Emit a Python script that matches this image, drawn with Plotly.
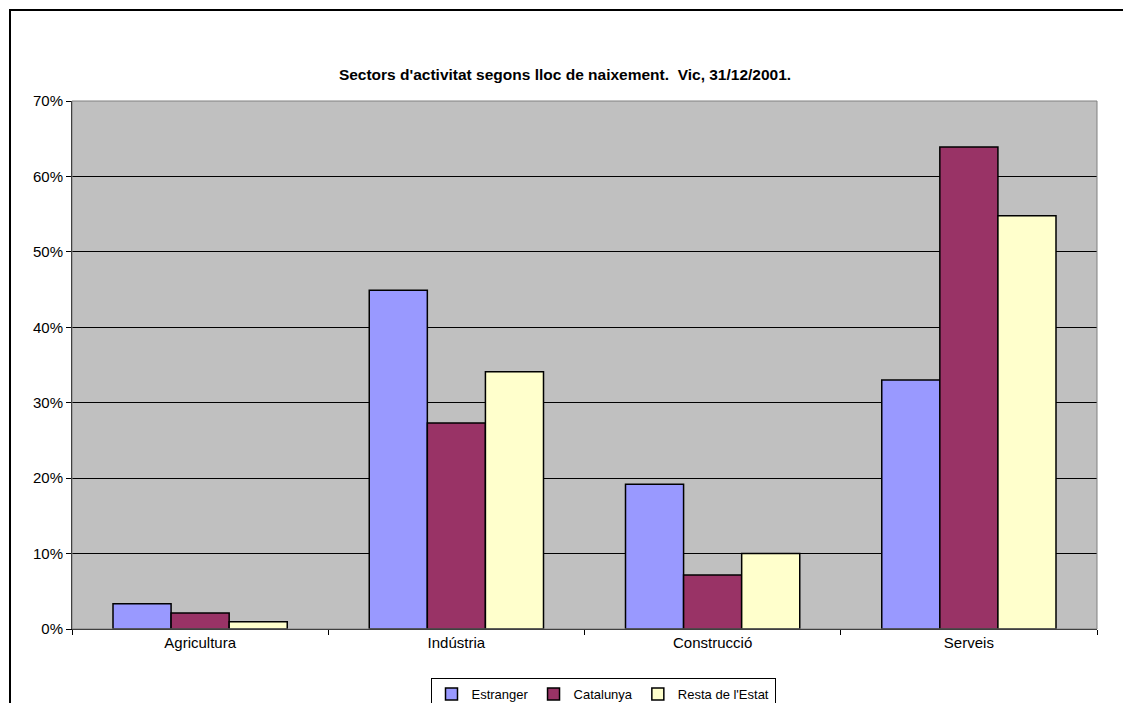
import plotly.graph_objects as go

categories = ["Agricultura", "Indústria", "Construcció", "Serveis"]
estranger = [0.0335, 0.449, 0.192, 0.330]
catalunya = [0.0212, 0.273, 0.0716, 0.639]
resta = [0.0097, 0.341, 0.100, 0.548]
series_names = ["Estranger", "Catalunya", "Resta de l'Estat"]
colors = ["#9999FF", "#993366", "#FFFFCC"]
y_ticks = [0, 0.1, 0.2, 0.3, 0.4, 0.5, 0.6, 0.7]

fig = go.Figure()
for name, vals, col in zip(series_names, [estranger, catalunya, resta], colors):
    fig.add_trace(go.Bar(
        x=categories, y=vals, name=name,
        marker=dict(color=col, line=dict(color="black", width=1.5)),
    ))

W, H = 1131, 703
OFF = 8  # page body margin
L, T = 72 - OFF, 101 - OFF
R = W - (1097 - OFF)
B = H - (629 - OFF)
pw = W - L - R
ph = H - T - B

fig.update_layout(
    width=W, height=H,
    margin=dict(l=L, r=R, t=T, b=B, autoexpand=False),
    paper_bgcolor="white",
    plot_bgcolor="#C0C0C0",
    barmode="group",
    bargap=0.32,
    bargroupgap=0,
    font=dict(family="Liberation Sans, Arial, sans-serif", size=15, color="black"),
    title=dict(
        text="<b>Sectors d'activitat segons lloc de naixement.  Vic, 31/12/2001.</b>",
        x=(565 - OFF) / W, xref="container", xanchor="center",
        y=1 - (75 - OFF) / H, yref="container", yanchor="middle",
        font=dict(size=15.5, color="black"),
    ),
    showlegend=True,
    legend=dict(
        orientation="h",
        x=(603 - OFF - L) / pw, xanchor="center",
        y=-(678 - OFF - (T + ph)) / ph, yanchor="top",
        bordercolor="black", borderwidth=1,
        bgcolor="white",
        font=dict(size=13),
        itemwidth=30,
        traceorder="normal",
    ),
    xaxis=dict(
        type="category",
        showline=True, linecolor="black", linewidth=1,
        ticks="outside", tickson="boundaries", ticklen=5, tickcolor="black",
        showgrid=False,
        tickfont=dict(size=15),
    ),
    yaxis=dict(
        range=[0, 0.7],
        tickvals=y_ticks,
        tickformat=".0%",
        showline=True, linecolor="black", linewidth=1,
        ticks="outside", ticklen=5, tickcolor="black",
        showgrid=True, gridcolor="black", gridwidth=1,
        zeroline=False,
        tickfont=dict(size=15),
    ),
)

# plot area border
fig.add_shape(type="rect", xref="paper", yref="paper", x0=0, x1=1, y0=0, y1=1,
              line=dict(color="#808080", width=1), layer="above")
# outer chart frame
fig.add_shape(type="rect", xref="paper", yref="paper",
              x0=(10 - OFF - L) / pw, x1=(W + 20 - L) / pw,
              y0=-(H + 20 - T - ph) / ph, y1=(ph + T - (10 - OFF)) / ph,
              line=dict(color="black", width=2), layer="above")

fig.write_html("out.html")
